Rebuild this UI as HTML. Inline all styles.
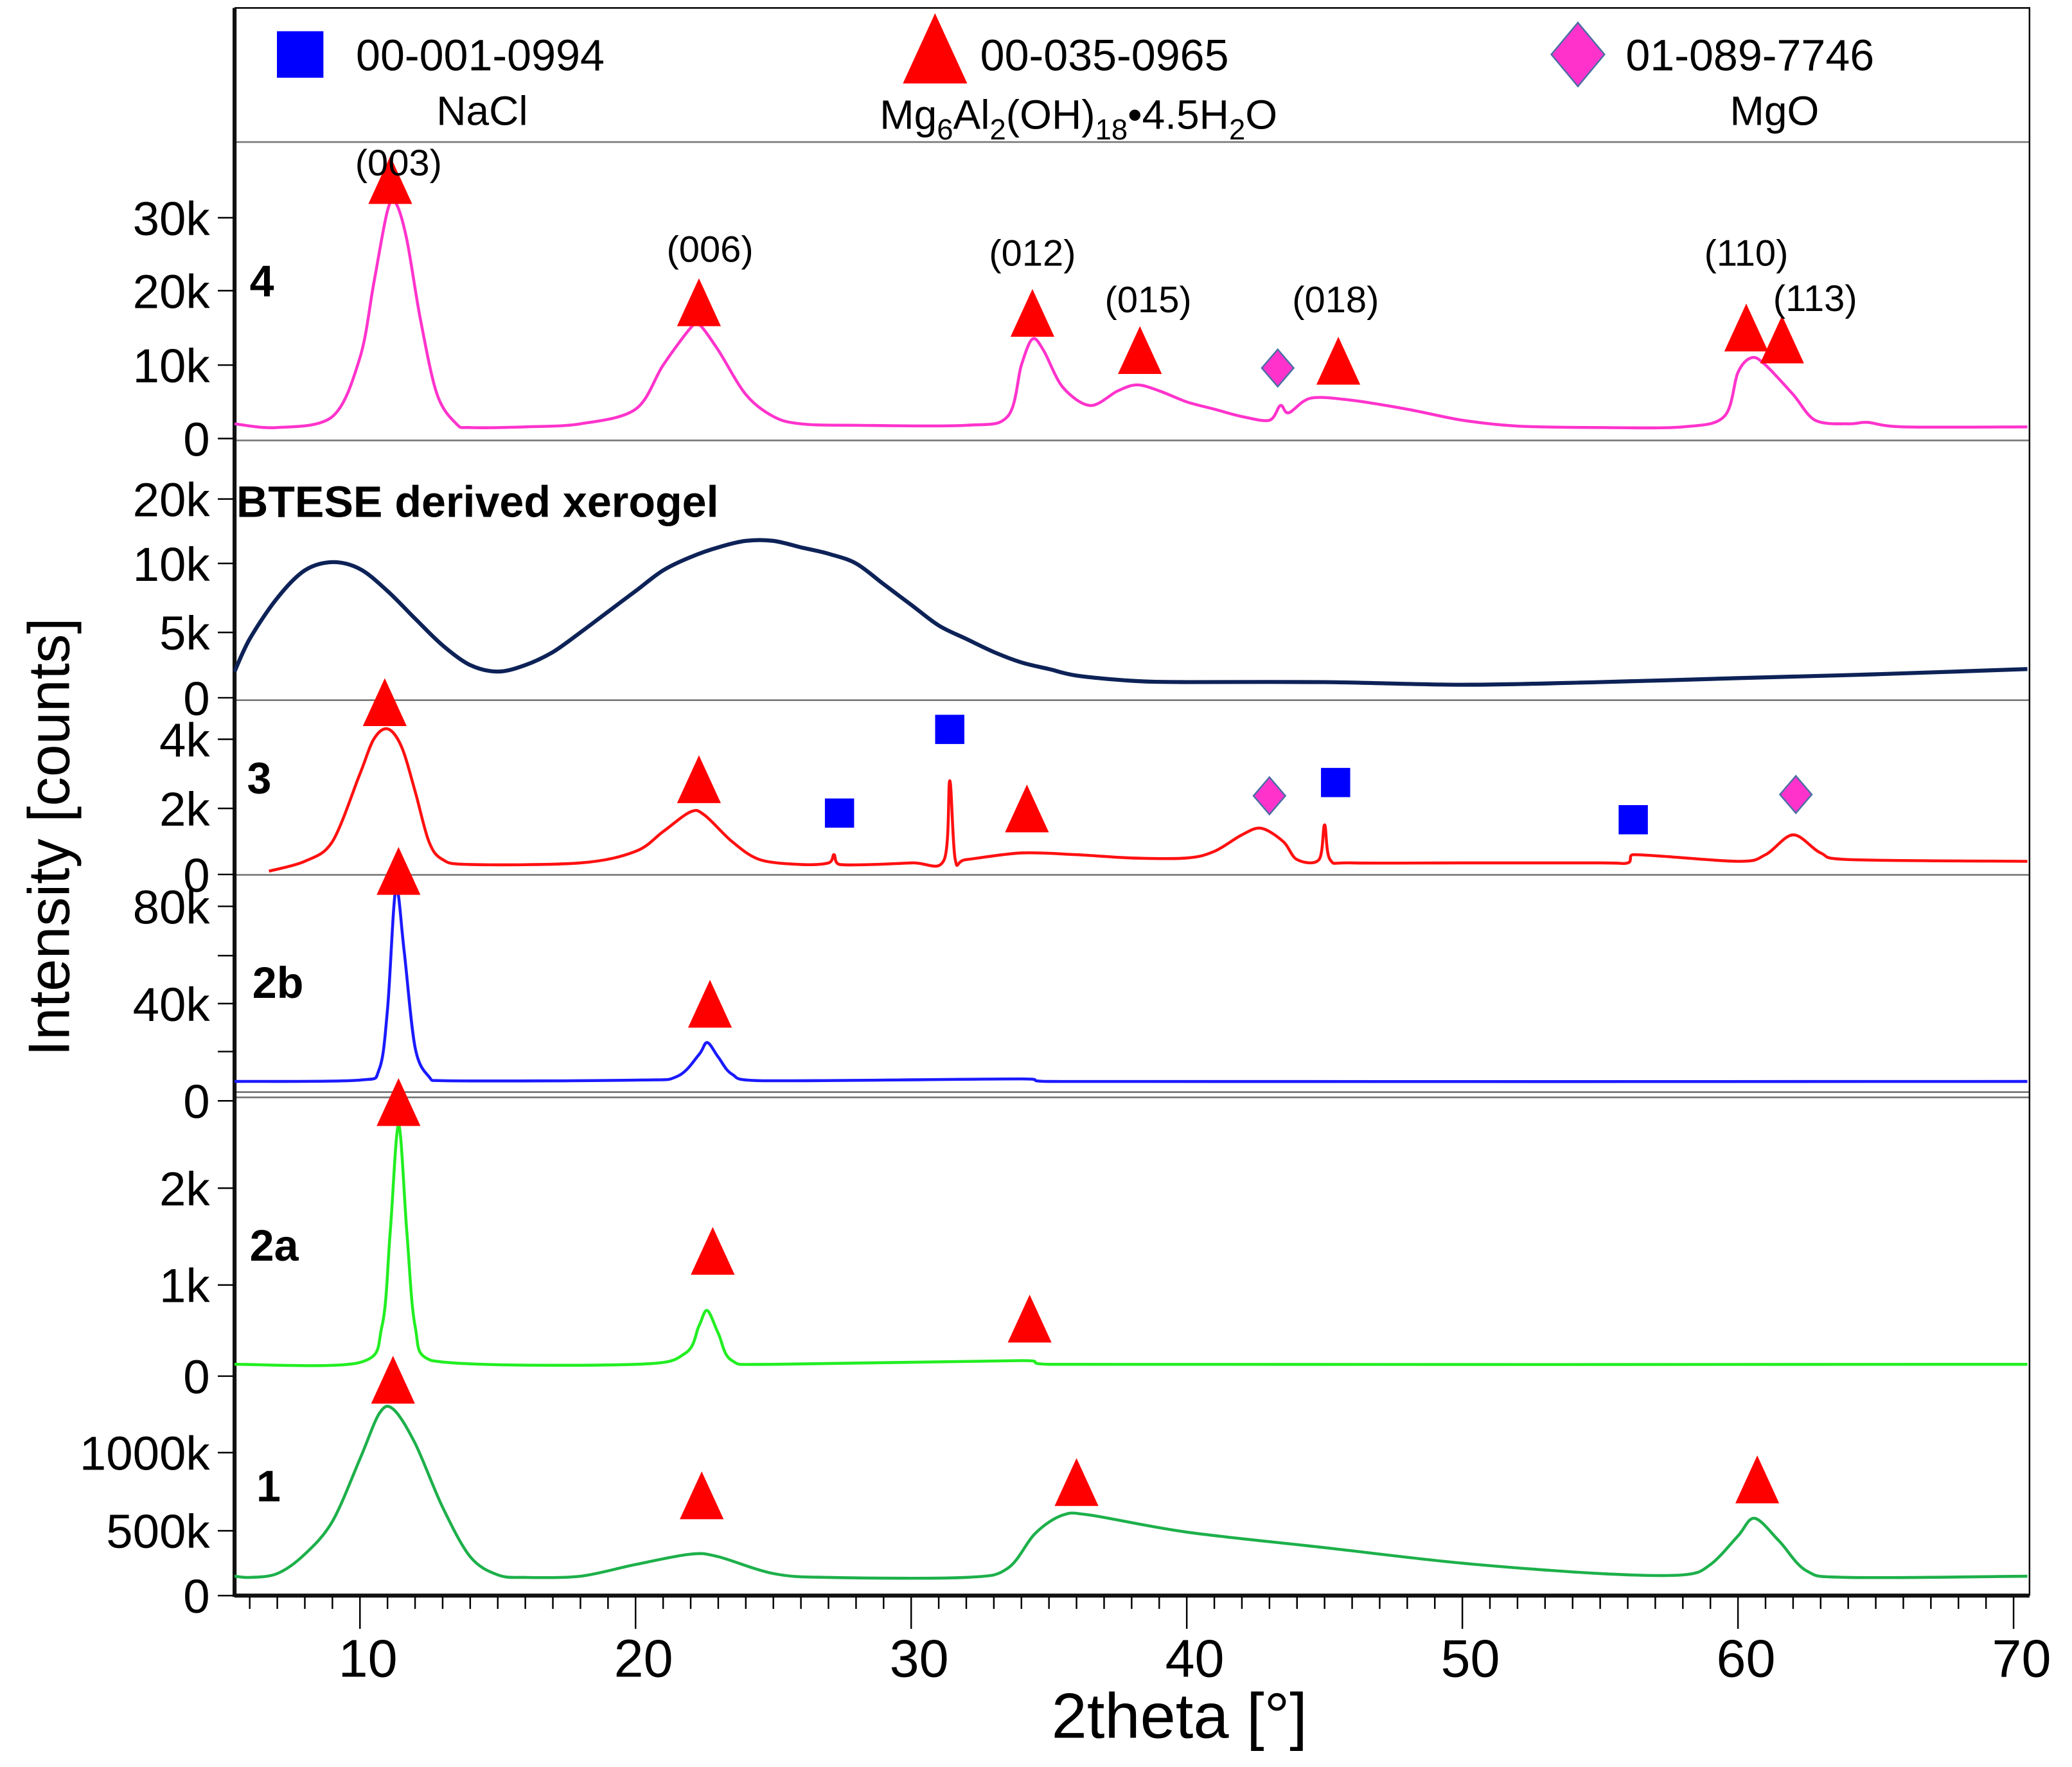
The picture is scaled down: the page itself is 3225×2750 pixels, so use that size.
<!DOCTYPE html>
<html><head><meta charset="utf-8">
<style>
html,body{margin:0;padding:0;background:#fff;}
svg{display:block;}
text{font-family:"Liberation Sans Narrow","Liberation Sans",sans-serif;}
.b{font-family:"Liberation Sans",sans-serif;font-weight:bold;}
</style></head>
<body>
<svg id="chart" width="3225" height="2750" viewBox="0 0 1560 1330" preserveAspectRatio="none" xmlns="http://www.w3.org/2000/svg"></svg>
<script>
// ---- data (2theta, intensity in k counts) ----
const s4x=[5.45,7,9,10,10.5,11,11.3,11.7,12.2,12.8,13.5,14,16,18,20,21,22,22.3,23,24,25,26,28,32,33.5,34,34.4,34.8,35.5,36.5,37.5,38.2,39,40,41,42,43,43.4,43.7,44.5,46,48,50,52,55,58,59.5,60,60.5,61,62,62.8,64,64.7,66,70.5];
const s4y=[2,1.5,3,11,21,31,32,27,16,6,2,1.5,1.6,2,4,10,15,15.5,12,6,3,2,1.8,1.8,3,10,13.5,12,7,4.5,6.5,7.3,6.5,5,4,3,2.5,4.5,3.5,5.5,5.2,4,2.5,1.7,1.5,1.6,3,9,11,10,6,2.5,2,2.2,1.6,1.6];
const sbx=[5.45,6,7,8,9,10,11,12,13,14,15,16,17,18,19,20,21,22,23,24,25,26,27,28,29,30,31,32,33,34,35,36,38,40,45,50,55,60,65,70.5];
const sby=[2,4.5,7.5,9.5,10.2,9.6,8,6,4,2.5,2,2.5,3.5,5,6.5,8,9.5,11,12.5,13.5,13.5,12.5,11.5,10,8.5,7,5.5,4.5,3.5,2.7,2.2,1.7,1.3,1.2,1.2,1.0,1.2,1.5,1.8,2.2];
const s3x=[6.7,8,9,10,10.5,11,11.5,12,12.5,13,14,18,20,21,22,22.5,23.5,24.5,26,27,27.2,27.4,30,31.2,31.4,31.6,32,34,36,38,40,41,42,42.7,43.5,44,44.8,45,45.2,46,50,55,56,56.2,60,61,62,63,64,70.5];
const s3y=[0.1,0.4,1,3,4,4.3,3.8,2.5,1,0.45,0.3,0.35,0.7,1.3,1.9,1.8,1,0.45,0.3,0.35,0.6,0.3,0.35,0.45,2.8,0.45,0.45,0.65,0.6,0.5,0.5,0.7,1.2,1.4,1,0.45,0.45,1.5,0.45,0.35,0.35,0.35,0.35,0.6,0.4,0.6,1.2,0.65,0.45,0.4];
const s2bx=[5.45,10,10.7,11,11.3,11.6,12,12.5,13,20,21.5,22.3,22.6,23,23.5,24.5,34,35,70.5];
const s2by=[8,8.5,13,38,87,62,22,10,8.3,8.5,10,19,24,18,11,8.3,9,8,8];
const s2ax=[5.45,10,10.8,11.1,11.4,11.7,12,12.6,20,21.8,22.3,22.6,23,23.5,25,34,35,70.5];
const s2ay=[0.13,0.15,0.55,1.55,2.65,1.55,0.55,0.17,0.13,0.25,0.55,0.72,0.47,0.17,0.13,0.17,0.13,0.13];
const s1x=[5.45,6,7,8,9,10,10.7,11.2,12,13,14,15,16,18,20,22,23,25,27,32,33.5,34.5,35.5,36.5,40,45,50,55,58,59,60,60.6,61.5,62.5,64,70.5];
const s1y=[150,140,170,320,560,960,1250,1280,1060,650,300,160,140,150,240,320,300,170,140,140,210,480,600,600,490,370,250,170,160,240,460,580,420,190,140,150];
const xTicks=[10,20,30,40,50,60,70];
// markers: 2theta, pixel y
const triX=[11.1,22.3,34.4,38.3,45.5,60.3,61.6, 10.9,22.3,34.2, 11.4,22.7, 11.4,22.8,34.3, 11.2,22.4,36,60.7];
const triY=[140,232,240,268,276,251,260, 533,591,613, 660,760, 834,946,997, 1043,1130,1120,1118];
const sqX=[27.4,31.4,45.4,56.2];
const sqY=[612,549,589,617];
const diX=[43.3,43,62.1];
const diY=[277,599,598];
const hkl=["(003)","(006)","(012)","(015)","(018)","(110)","(113)"];
const hklX=[11.4,22.7,34.4,38.6,45.4,60.3,62.8];
const hklY=[122,187,190,225,225,190,224];

// ---- panels: tick values -> pixel positions ----
const panels=[
 {name:"panel-4",x:s4x,y:s4y,color:"#ff33cc",tv:[0,10,20,30],tp:[330.1,274.8,218.8,163.9],tl:["0","10k","20k","30k"],minor:[],label:"4",lx:188,ly:223},
 {name:"panel-btese",x:sbx,y:sby,color:"#0d2257",w:3,tv:[0,5,10,20],tp:[525.2,476,424.1,375.6],tl:["0","5k","10k","20k"],minor:[],label:"",lx:0,ly:0},
 {name:"panel-3",x:s3x,y:s3y,color:"#ff1010",tv:[0,2,4],tp:[658.2,608.5,556.4],tl:["0","2k","4k"],minor:[],label:"3",lx:186,ly:597},
 {name:"panel-2b",x:s2bx,y:s2by,color:"#1a1aff",tv:[0,40,80],tp:[828.6,755.4,682.2],tl:["0","40k","80k"],minor:[791.5,719.3],label:"2b",lx:190,ly:751},
 {name:"panel-2a",x:s2ax,y:s2ay,color:"#22ee22",tv:[0,1,2],tp:[1035.8,967.2,894.3],tl:["0","1k","2k"],minor:[],label:"2a",lx:188,ly:949},
 {name:"panel-1",x:s1x,y:s1y,color:"#1db04a",tv:[0,500,1000],tp:[1201,1152.2,1093.4],tl:["0","500k","1000k"],minor:[],label:"1",lx:193,ly:1130}
];
const X0=5.45, XL=176.6, PX=20.75;
function sx(v){return XL+(v-X0)*PX;}
function sy(p,v){const a=p.tv,b=p.tp;let i=0;
 if(v<=a[0]) i=0; else {i=a.length-2;for(let k=0;k<a.length-1;k++){if(v<=a[k+1]){i=k;break;}}}
 return b[i]+(v-a[i])*(b[i+1]-b[i])/(a[i+1]-a[i]);}
function smooth(pts){
 let d="M"+pts[0][0].toFixed(1)+" "+pts[0][1].toFixed(1);
 for(let i=0;i<pts.length-1;i++){
  const p0=pts[Math.max(0,i-1)],p1=pts[i],p2=pts[i+1],p3=pts[Math.min(pts.length-1,i+2)];
  const t=0.16;
  let c1x=p1[0]+(p2[0]-p0[0])*t,c1y=p1[1]+(p2[1]-p0[1])*t;
  let c2x=p2[0]-(p3[0]-p1[0])*t,c2y=p2[1]-(p3[1]-p1[1])*t;
  c1x=Math.min(Math.max(c1x,p1[0]),p2[0]);c2x=Math.min(Math.max(c2x,p1[0]),p2[0]);
  d+=` C${c1x.toFixed(1)} ${c1y.toFixed(1)} ${c2x.toFixed(1)} ${c2y.toFixed(1)} ${p2[0].toFixed(1)} ${p2[1].toFixed(1)}`;
 }
 return d;
}

const NS="http://www.w3.org/2000/svg";
const svg=document.getElementById('chart');
function mk(tag,attrs,parent){const e=document.createElementNS(NS,tag);for(const k in attrs)e.setAttribute(k,attrs[k]);(parent||svg).appendChild(e);return e;}

// separators
[106.9,331.5,527,658.5,822,826].forEach((y,i)=>{
 const l=mk('line',{x1:XL,x2:1528,y1:y,y2:y,stroke:"#777","stroke-width":1.3});
 
 
});
// frame
const fr=mk('path',{d:`M${XL} 6 H1528 V1201 M${XL} 6 V1201 H1528`,fill:"none",stroke:"#000","stroke-width":1.2});


const la=mk('line',{x1:XL,x2:XL,y1:6,y2:1202,stroke:"#111","stroke-width":3});


const ba=mk('line',{x1:XL,x2:1528,y1:1201,y2:1201,stroke:"#111","stroke-width":3});



// x ticks
for(let v=6;v<=70;v++){
 const major=v%10===0;
 const t=mk('line',{x1:sx(v),x2:sx(v),y1:1202,y2:major?1226:1211,stroke:"#000","stroke-width":1.2});
 
 
}
xTicks.forEach(v=>{
 const t=mk('text',{x:sx(v)+6,y:1262,"font-size":40,"text-anchor":"middle"});
 t.textContent=v;
 
 
});
const xt=mk('text',{x:888,y:1308,"font-size":48,"text-anchor":"middle",style:"font-family:'Liberation Sans',sans-serif"});
xt.textContent="2theta [°]";


const yt=mk('text',{x:0,y:0,"font-size":44,"text-anchor":"middle",transform:"translate(52,630) rotate(-90)",style:"font-family:'Liberation Sans',sans-serif"});
yt.textContent="Intensity [counts]";



// panels
panels.forEach(p=>{
 p.tv.forEach((v,i)=>{
  const t=mk('line',{x1:164,x2:XL,y1:p.tp[i],y2:p.tp[i],stroke:"#000","stroke-width":1.2});
  
  
  const l=mk('text',{x:158,y:p.tp[i]+13,"font-size":36,"text-anchor":"end",style:"font-family:'Liberation Sans',sans-serif"});
  l.textContent=p.tl[i];
  
  
 });
 p.minor.forEach(y=>{
  const t=mk('line',{x1:164,x2:XL,y1:y,y2:y,stroke:"#000","stroke-width":1.2});
  
  
 });
 const pts=p.x.map((v,i)=>[sx(v),sy(p,p.y[i])]);
 const path=mk('path',{d:smooth(pts),fill:"none",stroke:p.color,"stroke-width":p.w||2.2,"stroke-linejoin":"round"});
 
 
 if(p.label){
  const t=mk('text',{x:p.lx,y:p.ly,"font-size":33,class:"b"});
  t.textContent=p.label;
  
  
 }
});
const bt=mk('text',{x:178,y:389,"font-size":33,class:"b"});
bt.textContent="BTESE derived xerogel";



// markers
function tri(cx,cy,s,name){
 const e=mk('polygon',{points:`${cx},${cy-s*0.75} ${cx-s*0.55},${cy+s*0.45} ${cx+s*0.55},${cy+s*0.45}`,fill:"#ff0000"});
 
 
}
function sq(cx,cy,s,name){
 const e=mk('rect',{x:cx-s/2,y:cy-s/2,width:s,height:s,fill:"#0000ff"});
 
 
}
function di(cx,cy,w,h,name){
 const e=mk('polygon',{points:`${cx},${cy-h} ${cx+w},${cy} ${cx},${cy+h} ${cx-w},${cy}`,fill:"#ff33cc",stroke:"#4a6fa5","stroke-width":1.2});
 
 
}
triX.forEach((v,i)=>tri(sx(v),triY[i],30,'ldh-marker'));
sqX.forEach((v,i)=>sq(sx(v),sqY[i],22,'nacl-marker'));
diX.forEach((v,i)=>di(sx(v),diY[i],12,14,'mgo-marker'));
hkl.forEach((h,i)=>{
 const t=mk('text',{x:sx(hklX[i]),y:hklY[i]+10,"font-size":28,"text-anchor":"middle",style:"font-family:'Liberation Sans',sans-serif"});
 t.textContent=h;
 
 
});

// legend
sq(226,41,35,'legend-nacl-symbol');
tri(704,43,44,'legend-ldh-symbol');
di(1188,41,20,24,'legend-mgo-symbol');
function lt(x,y,s,anchor,name,html){
 const t=mk('text',{x:x,y:y,"font-size":s,"text-anchor":anchor});
 t.innerHTML=html;
 
 
 return t;
}
lt(268,53,33,"start",'legend-nacl-code',"00-001-0994");
lt(363,94,31,"middle",'legend-nacl-name',"NaCl");
lt(738,53,33,"start",'legend-ldh-code',"00-035-0965");
lt(812,97,31,"middle",'legend-ldh-name','Mg<tspan font-size="22" dy="8">6</tspan><tspan dy="-8">Al</tspan><tspan font-size="22" dy="8">2</tspan><tspan dy="-8">(OH)</tspan><tspan font-size="22" dy="8">18</tspan><tspan dy="-8">•4.5H</tspan><tspan font-size="22" dy="8">2</tspan><tspan dy="-8">O</tspan>');
lt(1224,53,33,"start",'legend-mgo-code',"01-089-7746");
lt(1336,94,31,"middle",'legend-mgo-name',"MgO");
</script>
</body></html>
